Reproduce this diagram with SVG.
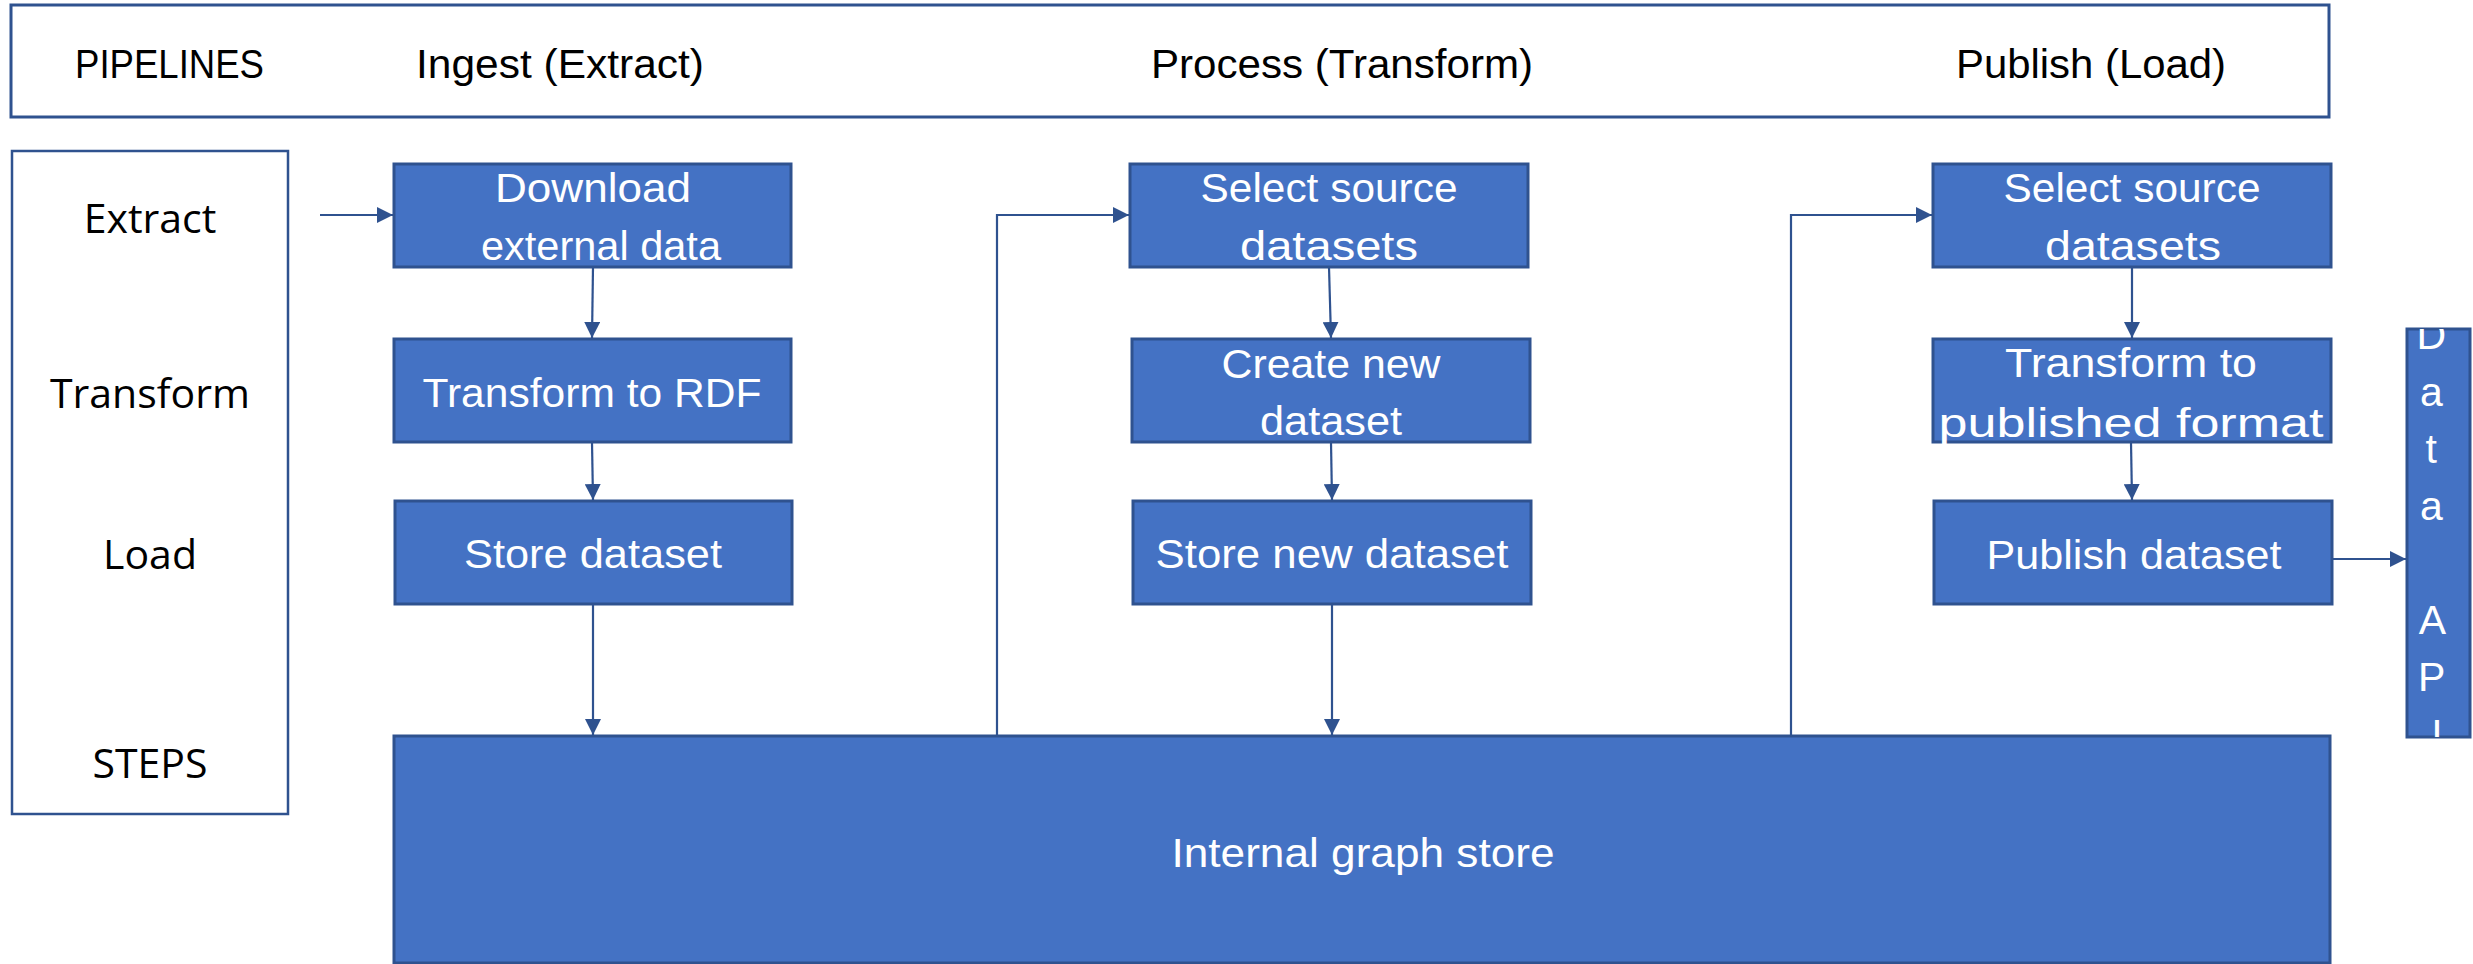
<svg xmlns="http://www.w3.org/2000/svg" width="2473" height="964" viewBox="0 0 2473 964">
  <style>
    .frame { fill: #ffffff; stroke: #2f528f; stroke-width: 3; }
    .side { fill: #ffffff; stroke: #2f528f; stroke-width: 2.5; }
    .step { fill: #4472c4; stroke: #2f528f; stroke-width: 3; }
    .hdr { font-family: "Liberation Sans", Arial, sans-serif; font-size: 40px; fill: #000000; }
    .lbl { font-family: "Open Sans", "Noto Sans", sans-serif; font-size: 41px; fill: #000000; text-anchor: middle; }
    .txt { font-family: "Liberation Sans", Arial, sans-serif; font-size: 41px; fill: #ffffff; text-anchor: middle; }
    .conn { fill: none; stroke: #2f528f; stroke-width: 2.2; }
  </style>
  <defs>
    <marker id="arrow" markerUnits="userSpaceOnUse" markerWidth="16" markerHeight="16" viewBox="0 0 16 16" refX="16" refY="8" orient="auto">
      <path d="M0 0 L16 8 L0 16 Z" fill="#2f528f"/>
    </marker>
    <clipPath id="apiClip">
      <rect x="2407" y="329" width="63" height="408"/>
    </clipPath>
  </defs>

  <!-- header band -->
  <g id="header">
    <rect class="frame" x="11" y="5" width="2318" height="112"/>
    <text class="hdr" x="75" y="78" textLength="189" lengthAdjust="spacingAndGlyphs">PIPELINES</text>
    <text class="hdr" x="416" y="78" textLength="288" lengthAdjust="spacingAndGlyphs">Ingest (Extract)</text>
    <text class="hdr" x="1151" y="78" textLength="382" lengthAdjust="spacingAndGlyphs">Process (Transform)</text>
    <text class="hdr" x="1956" y="78" textLength="270" lengthAdjust="spacingAndGlyphs">Publish (Load)</text>
  </g>

  <!-- step legend -->
  <g id="steps-legend">
    <rect class="side" x="12" y="151" width="276" height="663"/>
    <text class="lbl" x="150" y="233">Extract</text>
    <text class="lbl" x="150" y="408">Transform</text>
    <text class="lbl" x="150" y="569">Load</text>
    <text class="lbl" x="150" y="778">STEPS</text>
  </g>

  <!-- ingest column -->
  <g id="download-external-data">
    <rect class="step" x="394" y="164" width="397" height="103"/>
    <text class="txt" x="593" y="202" textLength="196" lengthAdjust="spacingAndGlyphs">Download</text>
    <text class="txt" x="601" y="260" textLength="240" lengthAdjust="spacingAndGlyphs">external data</text>
  </g>
  <g id="transform-to-rdf">
    <rect class="step" x="394" y="339" width="397" height="103"/>
    <text class="txt" x="592" y="407" textLength="339" lengthAdjust="spacingAndGlyphs">Transform to RDF</text>
  </g>
  <g id="store-dataset">
    <rect class="step" x="395" y="501" width="397" height="103"/>
    <text class="txt" x="593" y="568" textLength="258" lengthAdjust="spacingAndGlyphs">Store dataset</text>
  </g>

  <!-- process column -->
  <g id="process-select-source">
    <rect class="step" x="1130" y="164" width="398" height="103"/>
    <text class="txt" x="1329" y="202" textLength="257" lengthAdjust="spacingAndGlyphs">Select source</text>
    <text class="txt" x="1329" y="260" textLength="178" lengthAdjust="spacingAndGlyphs">datasets</text>
  </g>
  <g id="create-new-dataset">
    <rect class="step" x="1132" y="339" width="398" height="103"/>
    <text class="txt" x="1331" y="378" textLength="219" lengthAdjust="spacingAndGlyphs">Create new</text>
    <text class="txt" x="1331" y="435" textLength="142" lengthAdjust="spacingAndGlyphs">dataset</text>
  </g>
  <g id="store-new-dataset">
    <rect class="step" x="1133" y="501" width="398" height="103"/>
    <text class="txt" x="1332" y="568" textLength="353" lengthAdjust="spacingAndGlyphs">Store new dataset</text>
  </g>

  <!-- publish column -->
  <g id="publish-select-source">
    <rect class="step" x="1933" y="164" width="398" height="103"/>
    <text class="txt" x="2132" y="202" textLength="257" lengthAdjust="spacingAndGlyphs">Select source</text>
    <text class="txt" x="2133" y="260" textLength="176" lengthAdjust="spacingAndGlyphs">datasets</text>
  </g>
  <g id="transform-to-published-format">
    <rect class="step" x="1933" y="339" width="398" height="103"/>
    <text class="txt" x="2131" y="377" textLength="252" lengthAdjust="spacingAndGlyphs">Transform to</text>
    <text class="txt" x="2131" y="437" textLength="385" lengthAdjust="spacingAndGlyphs">published format</text>
  </g>
  <g id="publish-dataset">
    <rect class="step" x="1934" y="501" width="398" height="103"/>
    <text class="txt" x="2134" y="569" textLength="295" lengthAdjust="spacingAndGlyphs">Publish dataset</text>
  </g>

  <!-- external API -->
  <g id="data-api">
    <rect class="step" x="2407" y="329" width="63" height="408"/>
    <g clip-path="url(#apiClip)">
      <text class="txt" font-size="38" x="2437">
        <tspan x="2437" y="349">D</tspan>
        <tspan x="2437" y="406">a</tspan>
        <tspan x="2437" y="463">t</tspan>
        <tspan x="2437" y="520">a</tspan>
        <tspan x="2437" y="634">A</tspan>
        <tspan x="2437" y="691">P</tspan>
        <tspan x="2437" y="748">I</tspan>
      </text>
    </g>
  </g>

  <!-- shared store -->
  <g id="internal-graph-store">
    <rect class="step" x="394" y="736" width="1936" height="227"/>
    <text class="txt" x="1363" y="867" textLength="383" lengthAdjust="spacingAndGlyphs">Internal graph store</text>
  </g>

  <!-- connectors -->
  <g id="connectors">
    <path class="conn" d="M320 215 L393 215" marker-end="url(#arrow)"/>
    <path class="conn" d="M593 267 L592 338" marker-end="url(#arrow)"/>
    <path class="conn" d="M592 442 L593 500" marker-end="url(#arrow)"/>
    <path class="conn" d="M593 604 L593 735" marker-end="url(#arrow)"/>

    <path class="conn" d="M997 736 L997 215 L1129 215" marker-end="url(#arrow)"/>
    <path class="conn" d="M1329 267 L1331 338" marker-end="url(#arrow)"/>
    <path class="conn" d="M1331 442 L1332 500" marker-end="url(#arrow)"/>
    <path class="conn" d="M1332 604 L1332 735" marker-end="url(#arrow)"/>

    <path class="conn" d="M1791 736 L1791 215 L1932 215" marker-end="url(#arrow)"/>
    <path class="conn" d="M2132 267 L2132 338" marker-end="url(#arrow)"/>
    <path class="conn" d="M2131 442 L2132 500" marker-end="url(#arrow)"/>
    <path class="conn" d="M2332 559 L2406 559" marker-end="url(#arrow)"/>
  </g>
</svg>
